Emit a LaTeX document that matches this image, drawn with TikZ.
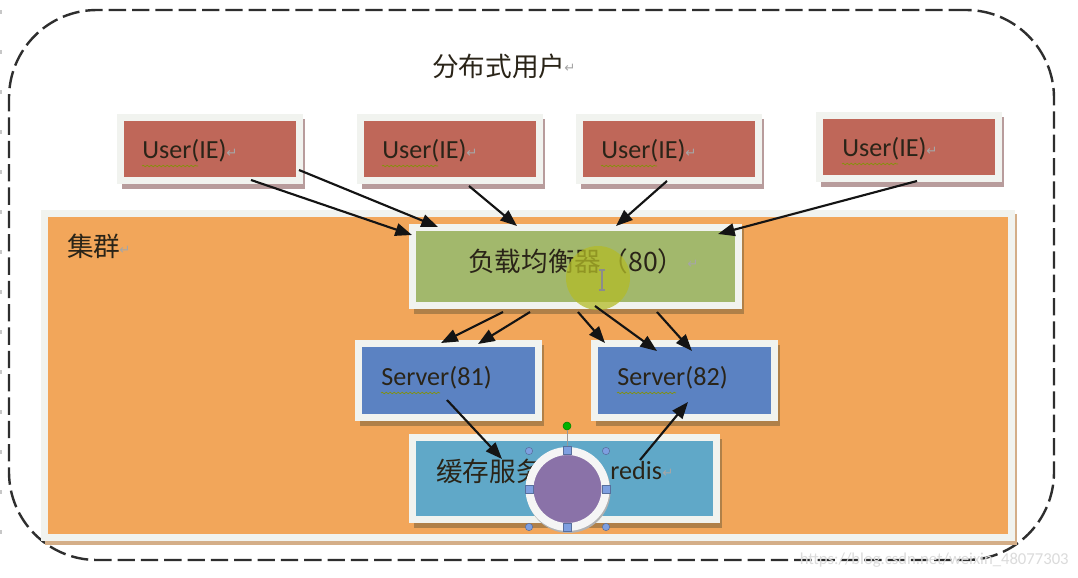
\documentclass[tikz,border=0pt]{standalone}
\usepackage{fontspec}
\setmainfont{Carlito}
\newfontfamily\cjk{Noto Sans CJK SC}
\newfontfamily\djv{DejaVu Sans}
\usetikzlibrary{arrows.meta,calc,decorations.pathmorphing}
\definecolor{framecol}{HTML}{F1F3EF}
\definecolor{usercol}{HTML}{BF6759}
\definecolor{usershadow}{HTML}{B89C9C}
\definecolor{clustercol}{HTML}{F2A65A}
\definecolor{clustershadow}{HTML}{D4AE88}
\definecolor{lbcol}{HTML}{A2B86C}
\definecolor{servercol}{HTML}{5B82C2}
\definecolor{cachecol}{HTML}{60A8C8}
\definecolor{orangeshadow}{HTML}{B08048}
\definecolor{purplecol}{HTML}{8A72A8}
\definecolor{handlecol}{HTML}{7E9FE0}
\definecolor{txt}{HTML}{2A2418}
\definecolor{cursorcol}{HTML}{B3BC28}
\tikzset{
  fbox/.style={draw=framecol,line width=5.25pt,inner sep=0pt,outer sep=0pt,rectangle},
  arrowline/.style={draw=black!92,line width=1.6pt,-{Triangle[length=12.5pt,width=9.5pt]},shorten >=0pt},
  cjklabel/.style={inner sep=0pt,anchor=west,text=txt,font=\cjk\fontsize{20}{20}\selectfont},
  latlabel/.style={inner sep=0pt,anchor=west,text=txt,font=\fontsize{19.6}{20}\selectfont},
  retmark/.style={inner sep=0pt,anchor=west,text=black!35,font=\djv\fontsize{10}{10}\selectfont},
  squiggle/.style={draw=olive!80!green,line width=.5pt,decorate,decoration={snake,amplitude=.6pt,segment length=3pt}},
  corner/.style={circle,draw=handlecol!70!black,fill=handlecol,line width=.4pt,minimum size=5.5pt,inner sep=0pt},
  side/.style={rectangle,draw=handlecol!70!black,fill=handlecol,line width=.4pt,minimum size=6pt,inner sep=0pt}
}
\newcommand{\fbx}[8]{% name x1 y1 x2 y2 fill shadow shadowoffset
  \fill[#7] (#2+#8,#3+#8) rectangle (#4+#8/2,#5+#8);
  \node[fbox,fill=#6,minimum width={(#4-#2-7)*0.75pt},minimum height={(#5-#3-7)*0.75pt}] (#1) at ({(#2+#4)/2},{(#3+#5)/2}) {};
}
\newcommand{\arr}[6]{\draw[arrowline] ($(#1.center)+(#2,#3)$) -- ($(#4.center)+(#5,#6)$);}
\begin{document}
\begin{tikzpicture}[x=0.75pt,y=-0.75pt]
\useasboundingbox (0,0) rectangle (1078,578);
\fill[white] (0,0) rectangle (1078,578);
% margin marks
\foreach \yy in {10,50,90,130,170,210,250,290,330,370,410,450,490,530}
  \fill[black!22] (0,\yy) rectangle (2,\yy+4);
% outer dashed boundary
\node[draw=black!82,line width=1.8pt,dash pattern=on 13pt off 4.5pt,rounded corners=66pt,inner sep=0pt,
  minimum width={1045*0.75pt},minimum height={550*0.75pt}] (outer) at (531.5,285) {};
% cluster
\fbx{cluster}{41}{210}{1015}{541}{clustercol}{clustershadow}{4}
% users
\fbx{u1}{117}{114}{303}{184}{usercol}{usershadow}{4.5}
\fbx{u2}{357}{114}{543}{184}{usercol}{usershadow}{4.5}
\fbx{u3}{576}{114}{762}{184}{usercol}{usershadow}{4.5}
\fbx{u4}{816}{112}{1002}{182}{usercol}{usershadow}{4.5}
% load balancer, servers, cache
\fbx{lb}{409}{224}{742}{309}{lbcol}{orangeshadow}{4.5}
\fbx{sa}{355}{340}{542}{421}{servercol}{orangeshadow}{4.5}
\fbx{sb}{591}{340}{778}{421}{servercol}{orangeshadow}{4.5}
\fbx{cache}{409}{434}{720}{523}{cachecol}{orangeshadow}{4.5}
% texts
\node[cjklabel] (title) at (432,66) {分布式用户};
\node[retmark] at (564,68) {↵};
\node[cjklabel] (clt) at (67,246) {集群};
\node[retmark] at (119,250) {↵};
\foreach \nm/\xx/\yy in {ua/142/151,ub/382/151,uc/601/151,ud/842/149}{
  \node[latlabel] (\nm) at (\xx,\yy) {User(IE)};
  \node[retmark] at (\xx+84,\yy+2) {↵};
  \draw[squiggle] (\xx,\yy+15) -- (\xx+56,\yy+15);
}
\node[cjklabel] (lbt) at (468,261) {负载均衡器（80）};
\node[retmark] at (687,264) {↵};
\node[latlabel] (sat) at (381,378) {Server(81)};
\draw[squiggle] (381,393) -- (440,393);
\node[latlabel] (sbt) at (617,378) {Server(82)};
\draw[squiggle] (617,393) -- (676,393);
\node[cjklabel] (cat) at (436,471) {缓存服务};
\node[latlabel] (red) at (610,471) {redis};
\node[retmark] at (662,473) {↵};
% cursor highlight
\fill[cursorcol,opacity=.75] (598,278) circle[radius=32];
\draw[black!45,line width=.8pt] (602,270) -- (602,290) (599,270) -- (605,270) (599,290) -- (605,290);
% arrows
\arr{u1}{41}{31}{lb}{-163.5}{-31.5}
\arr{u1}{89}{21}{lb}{-137.5}{-39.5}
\arr{u2}{19}{37}{lb}{-58.5}{-40.5}
\arr{u3}{-2}{32}{lb}{40.5}{-40.5}
\arr{u4}{8}{34}{lb}{142.5}{-32.5}
\arr{lb}{-72.5}{45.5}{sa}{-7.5}{-37.5}
\arr{lb}{-45.5}{45.5}{sa}{29.5}{-36.5}
\arr{lb}{2.5}{45.5}{sb}{-79.5}{-37.5}
\arr{lb}{19.5}{39.5}{sb}{-27.5}{-29.5}
\arr{lb}{81.5}{45.5}{sb}{7.5}{-29.5}
\arr{sa}{-1.5}{19.5}{cache}{-62.5}{-19.5}
\arr{cache}{75.5}{-18.5}{sb}{3.5}{21.5}
% circle with selection handles
\fill[black!30] (568.5,491) circle[radius=42];
\node[circle,draw=white!96!black,fill=purplecol,line width=6pt,inner sep=0pt,outer sep=0pt,minimum size={76*0.75pt}] (disc) at (567.5,489) {};
\node[circle,fill=green!70!black,draw=green!50!black,line width=.4pt,minimum size=6pt,inner sep=0pt] (rot) at (567,426) {};
\draw[black!40,line width=.5pt] (rot) -- (567,447);
\node[corner] (h1) at (529,451) {};
\node[corner] (h2) at (606,451) {};
\node[corner] (h3) at (529,527) {};
\node[corner] (h4) at (606,527) {};
\node[side] (s1) at (567,450) {};
\node[side] (s2) at (529,489) {};
\node[side] (s3) at (606,489) {};
\node[side] (s4) at (567,527) {};
% watermark
\node[inner sep=0pt,anchor=east,text=black!14,font=\fontsize{12.5}{13}\selectfont] (wm) at (1069,560) {https://blog.csdn.net/weixin\_48077303};
\end{tikzpicture}
\end{document}
